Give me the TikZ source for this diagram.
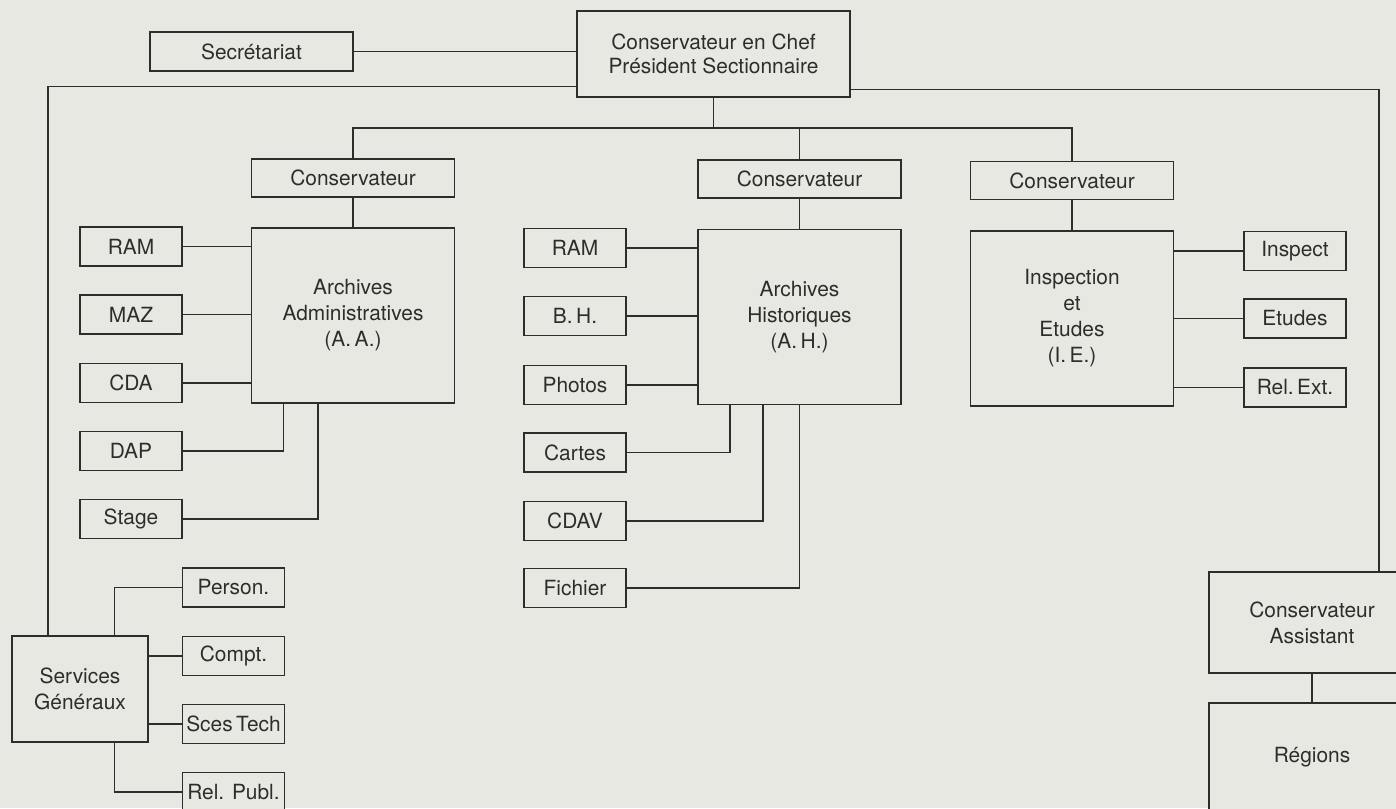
\documentclass[tikz,border=0pt]{standalone}
\usepackage{fontspec}
\setmainfont{TeX Gyre Heros}
\usepackage{xcolor}
\usepackage{tikz}
\usetikzlibrary{positioning, calc}
\definecolor{paper}{RGB}{232,232,226}
\definecolor{ink}{RGB}{45,45,45}

\begin{document}
\begin{tikzpicture}[
  x=0.02cm, y=-0.02cm,
  box/.style={rectangle, draw=ink, fill=paper, line width=0.85pt, inner sep=0pt,
              align=center, text=ink, font=\fontsize{11.9}{14.8}\selectfont},
  tight/.style={font=\fontsize{11.9}{13.8}\selectfont},
  small/.style={box, minimum width=2.04cm, minimum height=0.78cm},
  cons/.style={box, minimum width=4.06cm, minimum height=0.76cm},
  big/.style={box, minimum width=4.06cm, minimum height=3.5cm},
  line/.style={draw=ink, line width=0.85pt}
]
  \fill[paper] (0,0) rectangle (1396,808);
  \useasboundingbox (0,0) rectangle (1396,808);
  % sommet
  \node[box, tight, minimum width=5.46cm, minimum height=1.72cm] (chef) at (713.5,54) {Conservateur en Chef\\Président Sectionnaire};
  \node[box, minimum width=4.06cm, minimum height=0.78cm] (sec) at (251.5,51.5) {Secrétariat};
  % conservateurs
  \node[cons] (cons1) at (353,178) {Conservateur};
  \node[cons] (cons2) at (799.5,179) {Conservateur};
  \node[cons] (cons3) at (1072,180.5) {Conservateur};
  % divisions
  \node[big] (aa) at (353,315.5) {Archives\\Administratives\\(A.\,A.)};
  \node[big] (ah) at (799.5,317) {Archives\\Historiques\\(A.\,H.)};
  \node[big] (ie) at (1072,318.5) {Inspection\\et\\Etudes\\(I.\,E.)};
  % A.A.
  \node[small] (ram1) at (131,246.5) {RAM};
  \node[small] (maz) at (131,314.5) {MAZ};
  \node[small] (cda) at (131,383) {CDA};
  \node[small] (dap) at (131,451) {DAP};
  \node[small] (stage) at (131,519) {Stage};
  % A.H.
  \node[small] (ram2) at (575,248) {RAM};
  \node[small] (bh) at (575,316) {B.\,H.};
  \node[small] (photos) at (575,385) {Photos};
  \node[small] (cartes) at (575,452.5) {Cartes};
  \node[small] (cdav) at (575,521) {CDAV};
  \node[small] (fichier) at (575,588) {Fichier};
  % I.E.
  \node[small] (inspect) at (1295,251) {Inspect};
  \node[small] (etudes) at (1295,318.5) {Etudes};
  \node[small] (relext) at (1295,387.5) {Rel.\,Ext.};
  % services generaux
  \node[box, minimum width=2.72cm, minimum height=2.12cm] (sg) at (80,689) {Services\\Généraux};
  \node[small] (person) at (233.5,587.5) {Person.};
  \node[small] (compt) at (233.5,656) {Compt.};
  \node[small] (scestech) at (233.5,724) {Sces\,Tech};
  \node[small] (relpubl) at (233.5,792) {Rel. Publ.};
  % conservateur assistant
  \node[box, minimum width=4.12cm, minimum height=2.02cm] (ca) at (1312,622.5) {Conservateur\\Assistant};
  \node[box, minimum width=4.12cm, minimum height=2.16cm] (regions) at (1312,757) {Régions};
  % liaisons
  \coordinate (bus) at (713.5,128);
  \draw[line] (sec.east) -- (sec.east -| chef.west);
  \draw[line] ([yshift=0.22cm]chef.south west) -| ([xshift=-0.64cm]sg.north);
  \draw[line] ([yshift=0.16cm]chef.south east) -| ([xshift=1.34cm]ca.north);
  \draw[line] (chef.south) -- (bus);
  \draw[line] (cons1.north) |- (bus) -| (cons3.north);
  \draw[line] (cons2.north) -- (cons2.north |- bus);
  \draw[line] (cons1.south) -- (aa.north);
  \draw[line] (cons2.south) -- (ah.north);
  \draw[line] (cons3.south) -- (ie.north);
  \draw[line] (ram1.east) -- (ram1.east -| aa.west);
  \draw[line] (maz.east) -- (maz.east -| aa.west);
  \draw[line] (cda.east) -- (cda.east -| aa.west);
  \draw[line] (dap.east) -| ([xshift=-1.39cm]aa.south);
  \draw[line] (stage.east) -| ([xshift=-0.70cm]aa.south);
  \draw[line] (ram2.east) -- (ram2.east -| ah.west);
  \draw[line] (bh.east) -- (bh.east -| ah.west);
  \draw[line] (photos.east) -- (photos.east -| ah.west);
  \draw[line] (cartes.east) -| ([xshift=-1.39cm]ah.south);
  \draw[line] (cdav.east) -| ([xshift=-0.73cm]ah.south);
  \draw[line] (fichier.east) -| (ah.south);
  \draw[line] (inspect.west) -- (inspect.west -| ie.east);
  \draw[line] (etudes.west) -- (etudes.west -| ie.east);
  \draw[line] (relext.west) -- (relext.west -| ie.east);
  \draw[line] ([xshift=0.686cm]sg.north) |- (person.west);
  \draw[line] (compt.west) -- (compt.west -| sg.east);
  \draw[line] (scestech.west) -- (scestech.west -| sg.east);
  \draw[line] ([xshift=0.686cm]sg.south) |- (relpubl.west);
  \draw[line] (ca.south) -- (regions.north);
\end{tikzpicture}
\end{document}
